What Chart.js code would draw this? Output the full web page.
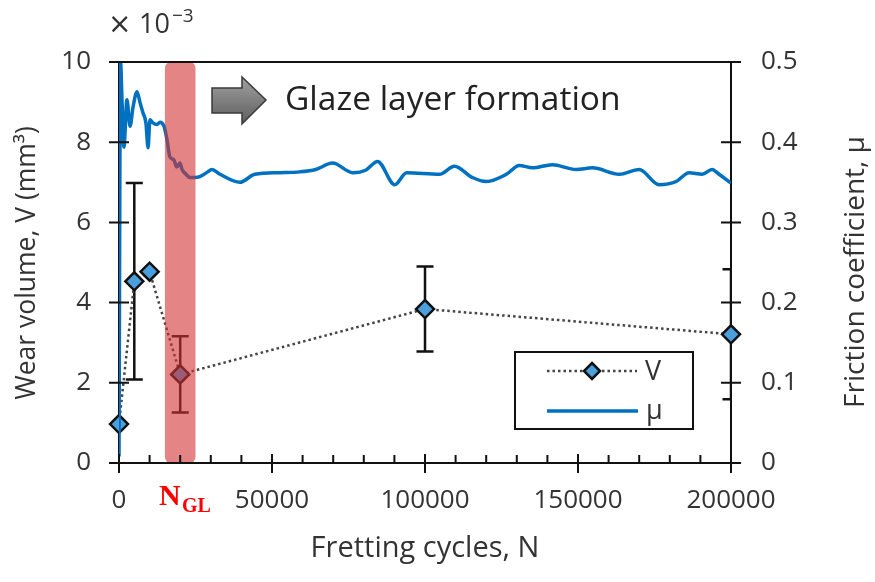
<!DOCTYPE html>
<html>
<head>
<meta charset="utf-8">
<script src="https://cdn.jsdelivr.net/npm/chart.js@4.4.1/dist/chart.umd.min.js"></script>
<style>
html,body{margin:0;padding:0;background:#fff;}
#wrap{position:relative;width:875px;height:582px;}
</style>
</head>
<body>
<div id="wrap"><canvas id="c" width="875" height="582"></canvas></div>
<script>
// Wear volume V (x10^-3 mm^3) at selected fretting cycles, with +/- error
const wearCycles = [0, 5000, 10000, 20000, 100000, 200000];
const wearVolume = [0.97, 4.53, 4.77, 2.21, 3.84, 3.21];
const wearError  = [null, 2.45, null, 0.95, 1.06, 1.62];

// Friction coefficient trace
const muCycles = [
  0, 500, 1000, 1600, 2600, 3600, 4600, 5900, 6900, 7800,
  8800, 9500, 10100, 11100, 12400, 13400, 14700, 15700, 16600, 17900,
  18900, 19900, 20600, 21900, 23200, 24800, 26400, 29000, 30300, 33000,
  39500, 44400, 52500, 59100, 64300, 69800, 76400, 80600, 84500, 90100,
  94000, 104700, 109600, 115500, 120100, 126600, 130800, 135100, 141600, 149400,
  154700, 163500, 170000, 176500, 182100, 186300, 190600, 193800, 196100, 200000
];
const muValues = [
  0.008, 0.5, 0.45, 0.394, 0.453, 0.42, 0.444, 0.463, 0.449, 0.437,
  0.424, 0.393, 0.428, 0.424, 0.422, 0.425, 0.42, 0.403, 0.382, 0.378,
  0.369, 0.374, 0.366, 0.36, 0.356, 0.356, 0.357, 0.363, 0.366, 0.36,
  0.35, 0.36, 0.362, 0.363, 0.366, 0.374, 0.362, 0.365, 0.376, 0.347,
  0.362, 0.36, 0.37, 0.356, 0.351, 0.36, 0.371, 0.368, 0.372, 0.366,
  0.368, 0.36, 0.366, 0.347, 0.351, 0.362, 0.36, 0.366, 0.36, 0.349
];

// Glaze-layer formation window (cycles)
const glazeBand = [15000, 25000];

// Axis ticks
const xTicks = [0, 50000, 100000, 150000, 200000];
const xMinorStep = 10000;
const vTicks = [0, 2, 4, 6, 8, 10];
const muTicks = [0, 0.1, 0.2, 0.3, 0.4, 0.5];

const FONT = "'Open Sans', 'DejaVu Sans', sans-serif";
const MU_BLUE = '#0070C0';
const DIAMOND_FILL = '#4a9fdc';

function drawDiamond(ctx, cx, cy, r) {
  ctx.beginPath();
  ctx.moveTo(cx, cy - r); ctx.lineTo(cx + r, cy); ctx.lineTo(cx, cy + r); ctx.lineTo(cx - r, cy);
  ctx.closePath();
  ctx.fillStyle = DIAMOND_FILL; ctx.fill();
  ctx.lineWidth = 2.5; ctx.strokeStyle = '#111'; ctx.stroke();
}

// Error bars, drawn underneath the V markers and clipped to the plot
const errorBars = {
  id: 'errorBars',
  beforeDatasetDraw(chart, args) {
    if (chart.data.datasets[args.index].label !== 'V') return;
    const {ctx, chartArea: a, scales: {x, y}} = chart;
    ctx.save();
    ctx.beginPath(); ctx.rect(a.left, a.top, a.right - a.left, a.bottom - a.top); ctx.clip();
    ctx.strokeStyle = '#111'; ctx.lineWidth = 2.5;
    wearCycles.forEach((c, i) => {
      const e = wearError[i];
      if (e == null) return;
      const px = x.getPixelForValue(c);
      const hi = y.getPixelForValue(wearVolume[i] + e);
      const lo = y.getPixelForValue(wearVolume[i] - e);
      ctx.beginPath();
      ctx.moveTo(px, hi); ctx.lineTo(px, lo);
      ctx.moveTo(px - 8.5, hi); ctx.lineTo(px + 8.5, hi);
      ctx.moveTo(px - 8.5, lo); ctx.lineTo(px + 8.5, lo);
      ctx.stroke();
    });
    ctx.restore();
  }
};

// Translucent band marking N_GL
const glazeShade = {
  id: 'glazeShade',
  afterDatasetsDraw(chart) {
    const {ctx, chartArea: a, scales: {x}} = chart;
    const x0 = x.getPixelForValue(glazeBand[0]);
    const x1 = x.getPixelForValue(glazeBand[1]);
    ctx.save();
    ctx.fillStyle = 'rgba(210,50,50,0.6)';
    ctx.beginPath();
    ctx.roundRect(x0, a.top, x1 - x0, a.bottom - a.top, 6);
    ctx.fill();
    ctx.restore();
  }
};

// Frame, crossing tick marks, legend, titles and notes
const decorations = {
  id: 'decorations',
  afterDraw(chart) {
    const {ctx, chartArea: a, scales: {x, y, y2}} = chart;
    ctx.save();
    ctx.strokeStyle = '#111'; ctx.lineWidth = 2; ctx.lineCap = 'butt';
    ctx.beginPath();
    ctx.moveTo(a.left - 10, a.top); ctx.lineTo(a.right + 10, a.top);
    ctx.moveTo(a.left, a.bottom); ctx.lineTo(a.right + 10, a.bottom);
    xTicks.forEach(v => { const p = x.getPixelForValue(v); ctx.moveTo(p, a.bottom - 9); ctx.lineTo(p, a.bottom + 10); });
    for (let v = xMinorStep; v < x.max; v += xMinorStep) {
      if (xTicks.includes(v)) continue;
      const p = x.getPixelForValue(v); ctx.moveTo(p, a.bottom - 8); ctx.lineTo(p, a.bottom);
    }
    vTicks.forEach(v => { const p = y.getPixelForValue(v); ctx.moveTo(a.left - 10, p); ctx.lineTo(a.left + 10, p); });
    muTicks.forEach(v => { const p = y2.getPixelForValue(v); ctx.moveTo(a.right - 10, p); ctx.lineTo(a.right + 10, p); });
    ctx.stroke();

    // legend
    ctx.lineWidth = 2; ctx.strokeStyle = '#111';
    ctx.strokeRect(515, 352, 178, 77);
    ctx.beginPath(); ctx.setLineDash([2.5, 3]); ctx.strokeStyle = '#444'; ctx.lineWidth = 2.5;
    ctx.moveTo(547, 371); ctx.lineTo(637, 371); ctx.stroke();
    ctx.setLineDash([]);
    drawDiamond(ctx, 592, 371, 8);
    ctx.beginPath(); ctx.strokeStyle = MU_BLUE; ctx.lineWidth = 3.5;
    ctx.moveTo(547, 411); ctx.lineTo(638, 411); ctx.stroke();
    ctx.fillStyle = '#333'; ctx.font = `27px ${FONT}`; ctx.textBaseline = 'middle'; ctx.textAlign = 'left';
    ctx.fillText('V', 645, 372);
    ctx.fillText('μ', 646, 411);

    // axis titles
    ctx.fillStyle = '#333'; ctx.font = `29px ${FONT}`; ctx.textAlign = 'center'; ctx.textBaseline = 'middle';
    ctx.fillText('Fretting cycles, N', 425, 549);
    ctx.font = `26.5px ${FONT}`;
    ctx.save(); ctx.translate(27, 263); ctx.rotate(-Math.PI / 2);
    ctx.fillText('Wear volume, V (mm³)', 0, 0); ctx.restore();
    ctx.font = `28px ${FONT}`;
    ctx.save(); ctx.translate(856, 272); ctx.rotate(-Math.PI / 2);
    ctx.fillText('Friction coefficient, μ', 0, 0); ctx.restore();

    // x10^-3 multiplier
    ctx.textAlign = 'left'; ctx.textBaseline = 'alphabetic';
    ctx.font = `28px 'DejaVu Sans', sans-serif`;
    ctx.fillText('×', 108, 33);
    ctx.font = `27px ${FONT}`;
    ctx.fillText('10', 139, 33);
    ctx.font = `19px ${FONT}`; ctx.fillText('−3', 172, 22);

    // N_GL marker
    ctx.fillStyle = '#ff0000';
    ctx.font = `bold 30px 'Liberation Serif', serif`; ctx.fillText('N', 159, 505);
    ctx.font = `bold 20px 'Liberation Serif', serif`; ctx.fillText('GL', 182, 512);

    // arrow + note
    const g = ctx.createLinearGradient(0, 77, 0, 124);
    g.addColorStop(0, '#a0a0a0'); g.addColorStop(1, '#5e5e5e');
    ctx.beginPath();
    ctx.moveTo(212, 88); ctx.lineTo(242, 88); ctx.lineTo(242, 77); ctx.lineTo(266, 100);
    ctx.lineTo(242, 124); ctx.lineTo(242, 113); ctx.lineTo(212, 113); ctx.closePath();
    ctx.fillStyle = g; ctx.fill();
    ctx.strokeStyle = '#3a3a3a'; ctx.lineWidth = 1.5; ctx.stroke();
    ctx.fillStyle = '#222'; ctx.font = `33.5px ${FONT}`;
    ctx.fillText('Glaze layer formation', 285, 110);
    ctx.restore();
  }
};

const tickFont = {family: FONT, size: 26};

new Chart(document.getElementById('c'), {
  type: 'line',
  data: {
    datasets: [
      {
        label: 'μ', yAxisID: 'y2', order: 1,
        data: muCycles.map((c, i) => ({x: c, y: muValues[i]})),
        borderColor: MU_BLUE, borderWidth: 3.5, pointRadius: 0,
        cubicInterpolationMode: 'monotone', fill: false
      },
      {
        label: 'V', yAxisID: 'y', order: 2, clip: false,
        data: wearCycles.map((c, i) => ({x: c, y: wearVolume[i]})),
        borderColor: '#444', borderWidth: 2.5, borderDash: [2.5, 3], tension: 0,
        pointStyle: 'rectRot', pointRadius: 9, pointBackgroundColor: DIAMOND_FILL,
        pointBorderColor: '#111', pointBorderWidth: 2.5, fill: false
      }
    ]
  },
  options: {
    responsive: false, animation: false,
    layout: {padding: {top: 62, left: 0, right: 0, bottom: 0}},
    plugins: {legend: {display: false}, tooltip: {enabled: false}},
    scales: {
      x: {
        type: 'linear', min: 0, max: 200000,
        afterBuildTicks: s => { s.ticks = xTicks.map(v => ({value: v})); },
        grid: {display: true, drawOnChartArea: false, drawTicks: false},
        border: {display: true, color: '#111', width: 2},
        ticks: {font: tickFont, color: '#333', padding: 22, maxRotation: 0, autoSkip: false,
                callback: v => String(v)},
        afterFit: s => { s.height = 119; }
      },
      y: {
        position: 'left', min: 0, max: 10,
        afterBuildTicks: s => { s.ticks = vTicks.map(v => ({value: v})); },
        grid: {display: true, drawOnChartArea: false, drawTicks: false},
        border: {display: true, color: '#111', width: 2},
        ticks: {font: tickFont, color: '#333', padding: 28},
        afterFit: s => { s.width = 119; }
      },
      y2: {
        position: 'right', min: 0, max: 0.5,
        afterBuildTicks: s => { s.ticks = muTicks.map(v => ({value: v})); },
        grid: {display: true, drawOnChartArea: false, drawTicks: false},
        border: {display: true, color: '#111', width: 2},
        ticks: {font: tickFont, color: '#333', padding: 30, callback: v => String(+v.toFixed(1))},
        afterFit: s => { s.width = 144; }
      }
    }
  },
  plugins: [errorBars, glazeShade, decorations]
});
</script>
</body>
</html>
